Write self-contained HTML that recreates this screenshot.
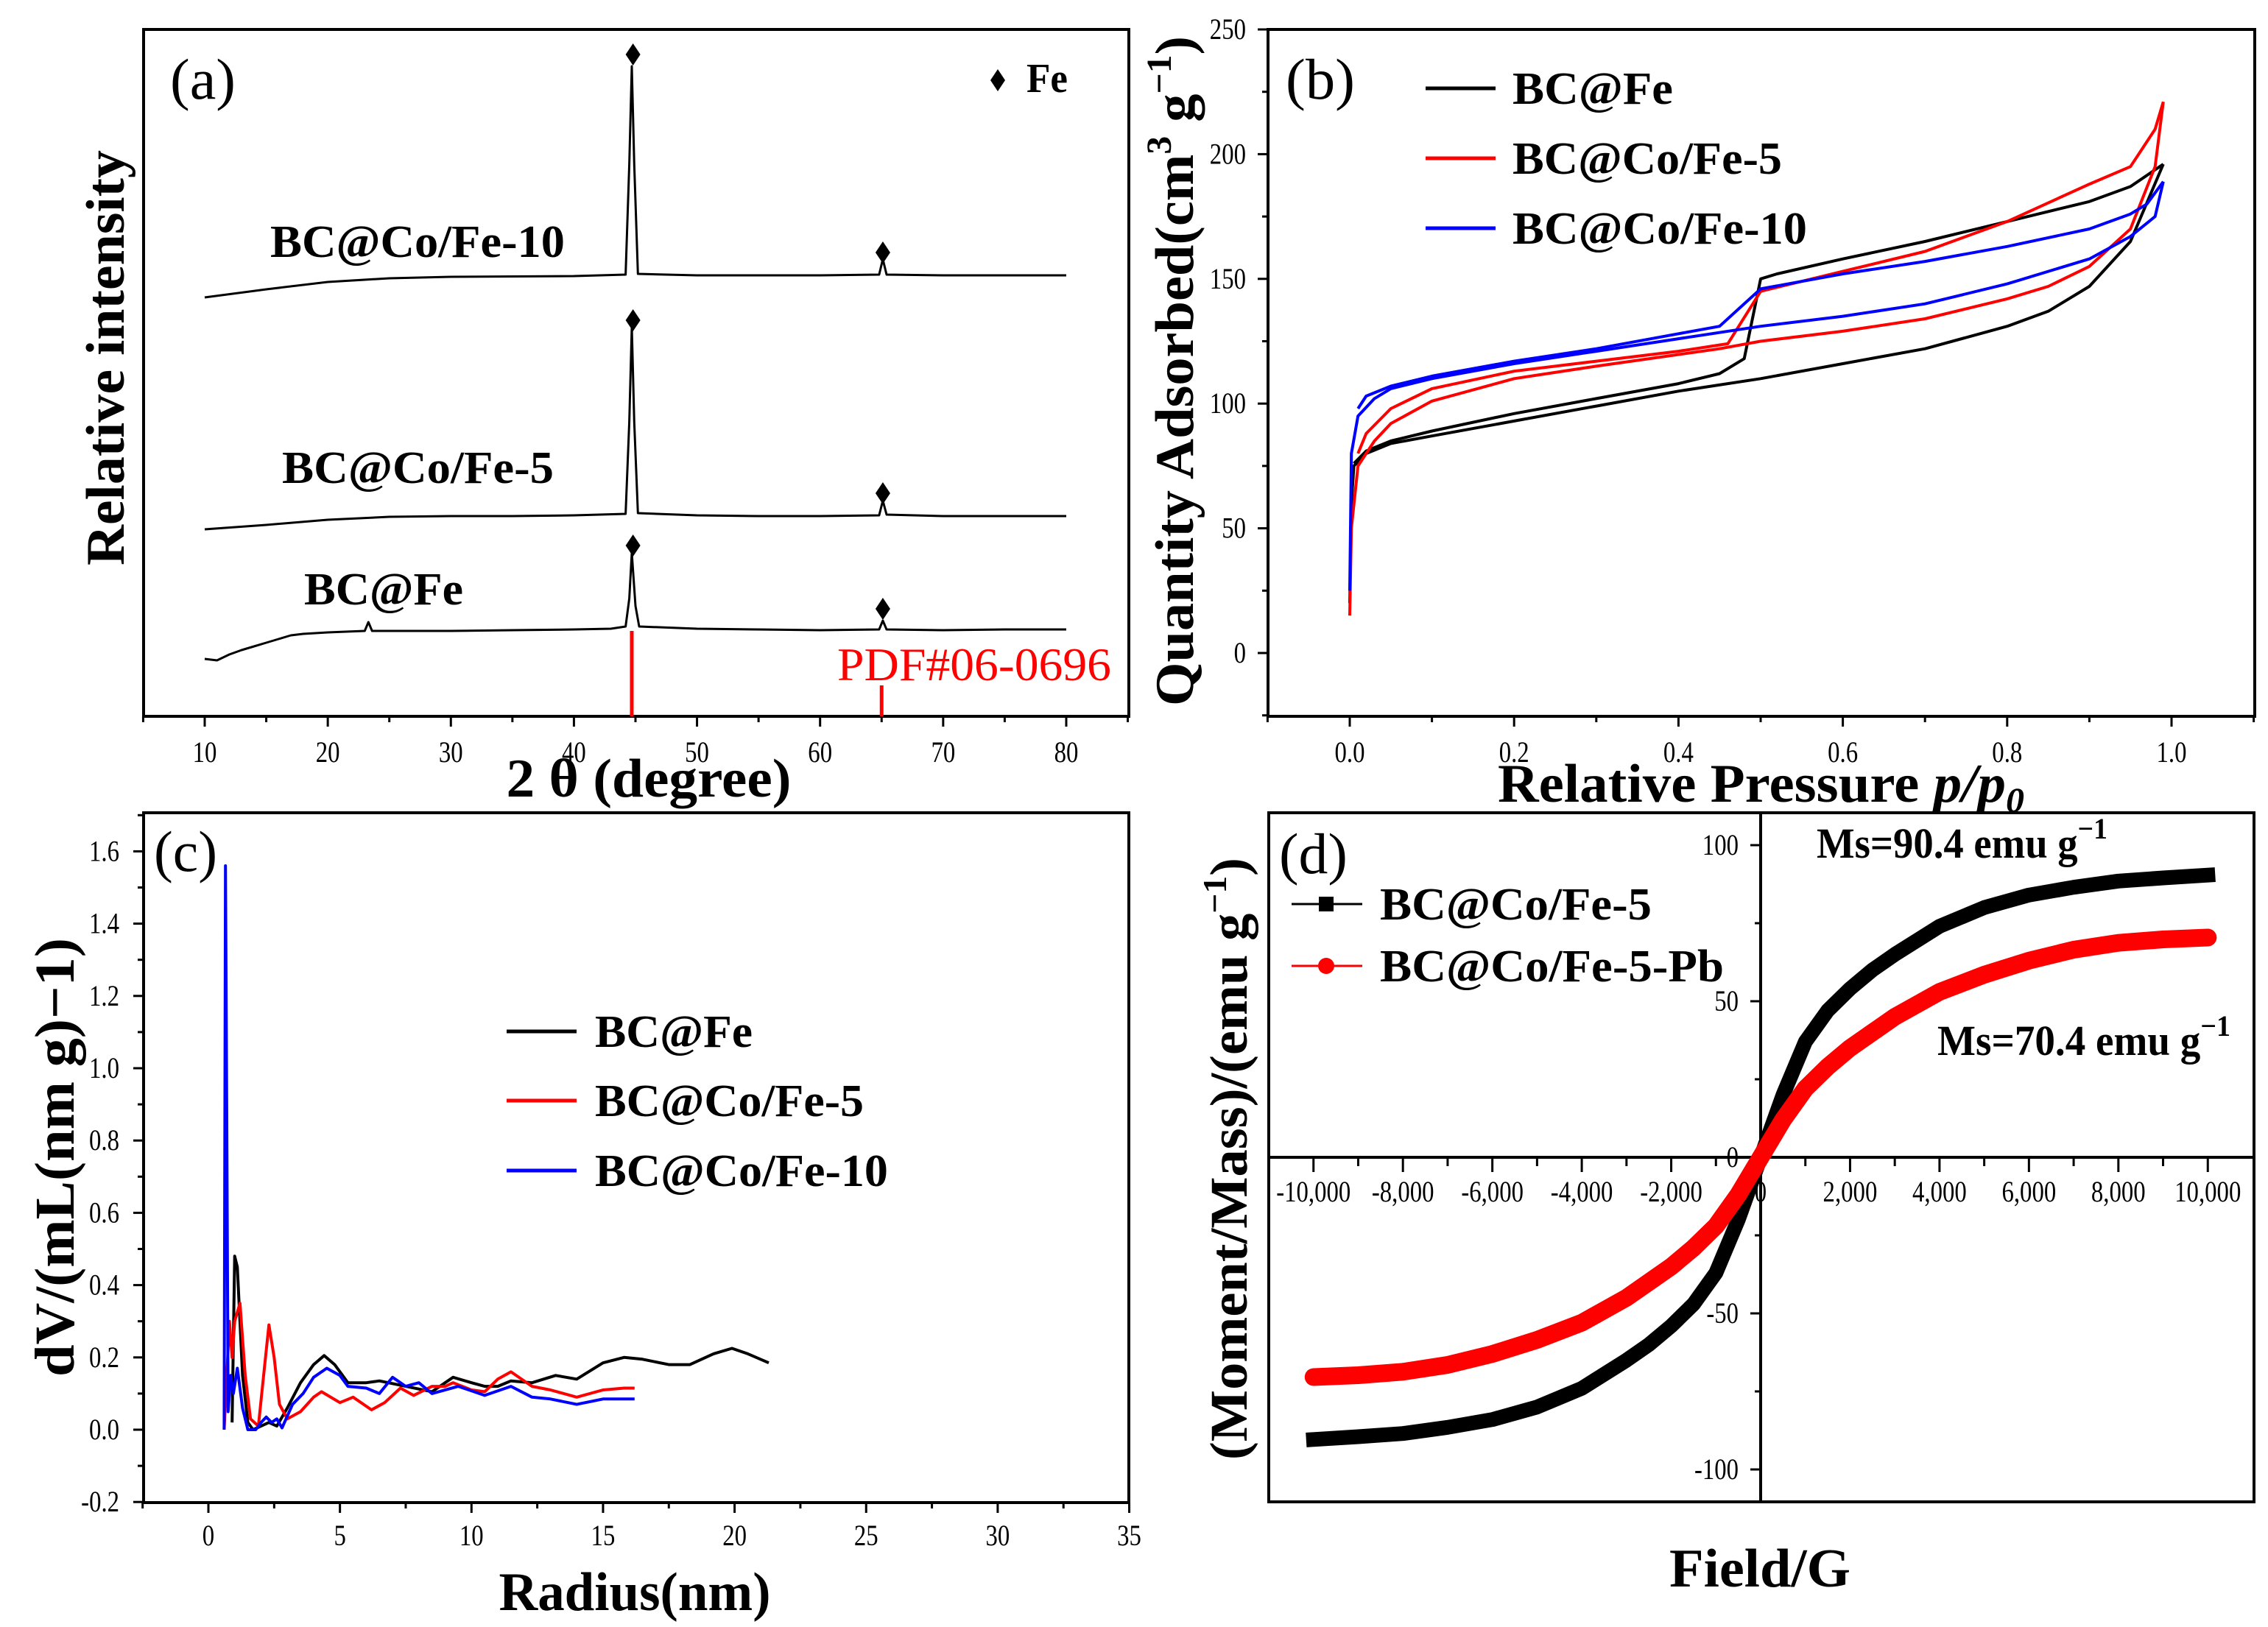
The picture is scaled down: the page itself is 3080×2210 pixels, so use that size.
<!DOCTYPE html>
<html><head><meta charset="utf-8"><style>
html,body{margin:0;padding:0;background:#fff;}
svg{display:block;font-family:"Liberation Serif",serif;}
.b{font-weight:bold;}
</style></head><body>
<svg id="fig" xmlns="http://www.w3.org/2000/svg" width="3080" height="2210" viewBox="0 0 3080 2210">
<rect x="0" y="0" width="3080" height="2210" fill="#fff"/>
<g id="layer"></g>
<!-- panel a texts -->
<text x="231" y="134" font-size="78" textLength="89" lengthAdjust="spacingAndGlyphs">(a)</text>
<text class="b" x="367" y="349" font-size="62" textLength="400" lengthAdjust="spacingAndGlyphs">BC@Co/Fe-10</text>
<text class="b" x="383" y="656" font-size="62" textLength="369" lengthAdjust="spacingAndGlyphs">BC@Co/Fe-5</text>
<text class="b" x="413" y="821" font-size="62" textLength="216" lengthAdjust="spacingAndGlyphs">BC@Fe</text>
<text class="b" x="1394" y="125" font-size="56" textLength="56" lengthAdjust="spacingAndGlyphs">Fe</text>
<text x="1137" y="924" font-size="64" fill="#ff0000" textLength="372" lengthAdjust="spacingAndGlyphs">PDF#06-0696</text>
<text class="b" x="881" y="1082" font-size="74" text-anchor="middle" textLength="387" lengthAdjust="spacingAndGlyphs">2 θ (degree)</text>
<text class="b" transform="translate(168,486) rotate(-90)" x="0" y="0" font-size="74" text-anchor="middle" textLength="564" lengthAdjust="spacingAndGlyphs">Relative intensity</text>
<!-- panel b texts -->
<text x="1746" y="134" font-size="78" textLength="94" lengthAdjust="spacingAndGlyphs">(b)</text>
<text class="b" x="2054" y="141" font-size="62" textLength="218" lengthAdjust="spacingAndGlyphs">BC@Fe</text>
<text class="b" x="2054" y="236" font-size="62" textLength="366" lengthAdjust="spacingAndGlyphs">BC@Co/Fe-5</text>
<text class="b" x="2054" y="331" font-size="62" textLength="400" lengthAdjust="spacingAndGlyphs">BC@Co/Fe-10</text>
<text class="b" x="2034" y="1089" font-size="74" textLength="715" lengthAdjust="spacingAndGlyphs">Relative Pressure <tspan font-style="italic">p/p</tspan><tspan font-style="italic" font-size="48" dy="14">0</tspan></text>
<text class="b" transform="translate(1620,504) rotate(-90)" x="0" y="0" font-size="74" text-anchor="middle" textLength="910" lengthAdjust="spacingAndGlyphs">Quantity Adsorbed(cm<tspan font-size="48" dy="-30">3</tspan><tspan dy="30"> g</tspan><tspan font-size="48" dy="-30">−1</tspan><tspan dy="30">)</tspan></text>
<!-- panel c texts -->
<text x="209" y="1183" font-size="78" textLength="86" lengthAdjust="spacingAndGlyphs">(c)</text>
<text class="b" x="808" y="1422" font-size="62" textLength="214" lengthAdjust="spacingAndGlyphs">BC@Fe</text>
<text class="b" x="808" y="1516" font-size="62" textLength="365" lengthAdjust="spacingAndGlyphs">BC@Co/Fe-5</text>
<text class="b" x="808" y="1611" font-size="62" textLength="398" lengthAdjust="spacingAndGlyphs">BC@Co/Fe-10</text>
<text class="b" x="862" y="2187" font-size="74" text-anchor="middle" textLength="369" lengthAdjust="spacingAndGlyphs">Radius(nm)</text>
<text class="b" transform="translate(100,1572) rotate(-90)" x="0" y="0" font-size="76" text-anchor="middle" textLength="596" lengthAdjust="spacingAndGlyphs">dV/(mL(nm g)−1)</text>
<!-- panel d texts -->
<text x="1737" y="1186" font-size="78" textLength="93" lengthAdjust="spacingAndGlyphs">(d)</text>
<text class="b" x="1874" y="1249" font-size="62" textLength="369" lengthAdjust="spacingAndGlyphs">BC@Co/Fe-5</text>
<text class="b" x="1874" y="1333" font-size="62" textLength="467" lengthAdjust="spacingAndGlyphs">BC@Co/Fe-5-Pb</text>
<text class="b" x="2467" y="1165" font-size="58" textLength="395" lengthAdjust="spacingAndGlyphs">Ms=90.4 emu g<tspan font-size="40" dy="-26">−1</tspan></text>
<text class="b" x="2631" y="1433" font-size="58" textLength="398" lengthAdjust="spacingAndGlyphs">Ms=70.4 emu g<tspan font-size="40" dy="-26">−1</tspan></text>
<text class="b" x="2390" y="2155" font-size="74" text-anchor="middle" textLength="246" lengthAdjust="spacingAndGlyphs">Field/G</text>
<text class="b" transform="translate(1693,1574) rotate(-90)" x="0" y="0" font-size="72" text-anchor="middle" textLength="818" lengthAdjust="spacingAndGlyphs">(Moment/Mass)/(emu g<tspan font-size="46" dy="-28">−1</tspan><tspan dy="28">)</tspan></text>
</svg>
<script>
// ---------- Panel (a) XRD data (2θ, relative intensity a.u.) ----------
const aFeX = [10,11,12,13,14,15,16,17,18,20,23,23.3,23.6,25,30,35,40,43,44.2,44.5,44.7,45,45.3,50,55,60,64.8,65.1,65.4,70,75,80];
const aFeY = [78,76,84,90,95,100,105,110,112,114,116,128,116,116,116,117,118,119,122,160,222,150,122,119,118,117,118,130,118,117,118,118];
const aCo5X = [10,15,20,25,30,35,40,44.2,44.5,44.7,44.9,45.2,50,55,60,64.8,65.1,65.4,70,80];
const aCo5Y = [254,260,267,271,272,272,273,275,400,529,400,276,273,272,272,273,293,274,272,272];
const aCo10X = [10,15,20,25,30,40,44.2,44.5,44.7,44.9,45.2,50,60,64.8,65.1,65.4,70,80];
const aCo10Y = [569,580,590,595,597,598,600,750,883,750,601,599,599,600,621,600,599,599];
const aPeakX = [44.8,65.1];
const aDiamFe = [232,146];
const aDiamCo5 = [538,303];
const aDiamCo10 = [899,630];
const pdfX = [44.7,65.0];
const pdfI = [116,42];
const aTicks = [10,20,30,40,50,60,70,80];

// ---------- Panel (b) isotherms (p/p0, cm3/g) ----------
const bFeAdsX = [0,0.002,0.005,0.02,0.05,0.1,0.2,0.3,0.4,0.5,0.6,0.7,0.8,0.85,0.9,0.95,0.99];
const bFeAdsY = [20,60,75,80,84,87,93,99,105,110,116,122,131,137,147,165,196];
const bFeDesX = [0.99,0.95,0.9,0.8,0.7,0.6,0.52,0.5,0.48,0.45,0.4,0.3,0.2,0.1,0.05,0.02,0.005];
const bFeDesY = [196,187,181,173,165,158,152,150,118,112,108,102,96,89,85,81,76];
const bCo5AdsX = [0,0.002,0.01,0.03,0.05,0.1,0.2,0.3,0.45,0.5,0.6,0.7,0.8,0.85,0.9,0.95,0.98,0.99];
const bCo5AdsY = [15,50,75,85,92,101,110,115,122,125,129,134,142,147,155,170,195,221];
const bCo5DesX = [0.99,0.98,0.96,0.95,0.9,0.8,0.7,0.6,0.5,0.46,0.4,0.3,0.2,0.1,0.05,0.02,0.01];
const bCo5DesY = [221,210,200,195,188,173,161,153,145,124,121,117,113,106,98,88,80];
const bCo10AdsX = [0,0.002,0.01,0.03,0.05,0.1,0.2,0.3,0.4,0.5,0.6,0.7,0.8,0.9,0.95,0.98,0.99];
const bCo10AdsY = [25,80,95,102,106,110,116,121,126,131,135,140,148,158,167,175,189];
const bCo10DesX = [0.99,0.97,0.95,0.9,0.8,0.7,0.6,0.5,0.45,0.4,0.3,0.2,0.1,0.05,0.02,0.01];
const bCo10DesY = [189,180,176,170,163,157,152,146,131,128,122,117,111,107,103,98];
const bXTicks = [0,0.2,0.4,0.6,0.8,1.0];
const bXTickLabels = ["0.0","0.2","0.4","0.6","0.8","1.0"];
const bYTicks = [0,50,100,150,200,250];

// ---------- Panel (c) pore size distribution (nm, mL/(nm g)) ----------
const cFeX = [0.9,1.0,1.1,1.3,1.5,1.7,2.0,2.3,2.6,3.0,3.5,4.0,4.4,4.8,5.3,6.0,6.5,7.5,8.5,9.3,10.0,10.5,11.0,11.5,12.3,13.2,14.0,15.0,15.8,16.5,17.5,18.3,19.2,19.9,20.5,21.3];
const cFeY = [0.02,0.48,0.45,0.15,0.02,0.0,0.01,0.02,0.01,0.06,0.13,0.18,0.205,0.18,0.13,0.13,0.135,0.12,0.105,0.145,0.13,0.12,0.12,0.135,0.13,0.15,0.14,0.185,0.2,0.195,0.18,0.18,0.21,0.225,0.21,0.185];
const cCo5X = [0.6,0.8,0.9,1.0,1.2,1.4,1.6,1.9,2.1,2.3,2.5,2.7,3.0,3.5,4.0,4.3,5.0,5.5,6.2,6.7,7.3,7.8,8.5,9.0,9.3,10.0,10.5,11.0,11.5,12.3,13.0,14.0,15.0,15.8,16.2];
const cCo5Y = [0,0.3,0.2,0.3,0.35,0.15,0.03,0.01,0.15,0.29,0.2,0.07,0.03,0.05,0.09,0.105,0.075,0.09,0.055,0.075,0.115,0.095,0.12,0.12,0.13,0.11,0.105,0.14,0.16,0.12,0.11,0.09,0.11,0.115,0.115];
const cCo10X = [0.6,0.65,0.7,0.75,0.85,0.95,1.1,1.3,1.5,1.8,2.0,2.2,2.4,2.6,2.8,3.2,3.6,4.0,4.5,5.0,5.3,6.0,6.5,7.0,7.5,8.0,8.5,9.5,10.5,11.5,12.3,13.0,14.0,15.0,16.2];
const cCo10Y = [0,1.56,0.85,0.05,0.15,0.10,0.17,0.06,0.0,0.0,0.02,0.035,0.02,0.03,0.005,0.07,0.10,0.145,0.17,0.15,0.12,0.115,0.10,0.145,0.12,0.13,0.10,0.12,0.095,0.12,0.09,0.085,0.07,0.085,0.085];
const cXTicks = [0,5,10,15,20,25,30,35];
const cYTicks = [-0.2,0,0.2,0.4,0.6,0.8,1.0,1.2,1.4,1.6];
const cYTickLabels = ["-0.2","0.0","0.2","0.4","0.6","0.8","1.0","1.2","1.4","1.6"];

// ---------- Panel (d) magnetization (G, emu/g) ----------
const dField = [-10000,-9000,-8000,-7000,-6000,-5000,-4000,-3000,-2500,-2000,-1500,-1000,-500,0,500,1000,1500,2000,2500,3000,4000,5000,6000,7000,8000,9000,10000];
const dCo5 = [-90.4,-89.5,-88.5,-86.5,-84,-80,-74,-65,-60,-54,-47,-37,-20,0,20,37,47,54,60,65,74,80,84,86.5,88.5,89.5,90.4];
const dCo5Pb = [-70.4,-69.8,-68.7,-66.5,-63,-58.5,-53,-45,-40,-35,-29,-22,-12,0,12,22,29,35,40,45,53,58.5,63,66.5,68.7,69.8,70.4];
const dXTicks = [-10000,-8000,-6000,-4000,-2000,0,2000,4000,6000,8000,10000];
const dXTickLabels = ["-10,000","-8,000","-6,000","-4,000","-2,000","0","2,000","4,000","6,000","8,000","10,000"];
const dYTicks = [-100,-50,0,50,100];

// ---------- scales ----------
const ax = v => 278 + (v - 10) * 16.714;
const ay = v => 973 - v;
const bx = v => 1833 + v * 1116;
const by = v => 887 - v * 3.388;
const cx = v => 283 + v * 35.73;
const cy = v => 1942 - v * 491;
const dx = v => 2391 + v * 0.060725;
const dy = v => 1572 - v * 4.24;

const NS = "http://www.w3.org/2000/svg";
const layer = document.getElementById('layer');
function mk(tag, attrs, name) {
  const el = document.createElementNS(NS, tag);
  for (const k in attrs) el.setAttribute(k, attrs[k]);
  
  
  layer.appendChild(el);
  return el;
}
function line(x1, y1, x2, y2, w, c, name) {
  return mk('line', {x1, y1, x2, y2, stroke: c, 'stroke-width': w}, name);
}
function poly(xs, ys, fx, fy, w, c, name, extra) {
  const pts = xs.map((v, i) => fx(v).toFixed(1) + ',' + fy(ys[i]).toFixed(1)).join(' ');
  const a = {points: pts, fill: 'none', stroke: c, 'stroke-width': w, 'stroke-linejoin': 'round'};
  if (extra) for (const k in extra) a[k] = extra[k];
  return mk('polyline', a, name);
}
function txt(x, y, s, fs, anchor, name, len) {
  const a = {x, y, 'font-size': fs, 'text-anchor': anchor};
  if (len) { a.textLength = len; a.lengthAdjust = 'spacingAndGlyphs'; }
  const t = mk('text', a, name);
  t.textContent = s;
  return t;
}
function diamond(x, y, name) {
  return mk('polygon', {points: `${x},${y-15} ${x+10},${y} ${x},${y+15} ${x-10},${y}`, fill: '#000'}, name);
}
function digitsLen(s, fs) {
  let w = 0;
  for (const ch of s) w += (ch === ',' || ch === '.') ? 0.25 : (ch === '-' ? 0.33 : 0.5);
  return w * fs * 0.82;
}

// ===== Panel (a) =====
mk('rect', {x: 195, y: 40, width: 1338, height: 933, fill: 'none', stroke: '#000', 'stroke-width': 4}, 'plot-frame-a');
for (let v = 5; v <= 85; v += 5) {
  const major = v % 10 === 0;
  line(ax(v), 973, ax(v), 973 + (major ? 14 : 8), 3, '#000', 'x-tick-a');
}
aTicks.forEach(v => txt(ax(v), 1035, String(v), 40, 'middle', 'x-tick-label-a', digitsLen(String(v), 40)));
pdfX.forEach((v, i) => line(ax(v), 973, ax(v), ay(pdfI[i]), 5, '#ff0000', 'pdf-reference-line'));
poly(aFeX, aFeY, ax, ay, 3, '#000', 'xrd-curve-bc-fe');
poly(aCo5X, aCo5Y, ax, ay, 3, '#000', 'xrd-curve-bc-co-fe-5');
poly(aCo10X, aCo10Y, ax, ay, 3, '#000', 'xrd-curve-bc-co-fe-10');
aPeakX.forEach((v, i) => {
  diamond(ax(v), ay(aDiamFe[i]), 'fe-peak-marker');
  diamond(ax(v), ay(aDiamCo5[i]), 'fe-peak-marker');
  diamond(ax(v), ay(aDiamCo10[i]), 'fe-peak-marker');
});
diamond(1355, 109, 'legend-fe-marker');

// ===== Panel (b) =====
mk('rect', {x: 1722, y: 40, width: 1340, height: 933, fill: 'none', stroke: '#000', 'stroke-width': 4}, 'plot-frame-b');
for (let k = -1; k <= 11; k++) {
  const v = k / 10, major = k % 2 === 0;
  line(bx(v), 973, bx(v), 973 + (major ? 14 : 8), 3, '#000', 'x-tick-b');
}
bXTicks.forEach((v, i) => txt(bx(v), 1035, bXTickLabels[i], 40, 'middle', 'x-tick-label-b', digitsLen(bXTickLabels[i], 40)));
for (let v = -25; v <= 250; v += 25) {
  const major = v % 50 === 0;
  line(1722, by(v), 1722 - (major ? 14 : 8), by(v), 3, '#000', 'y-tick-b');
}
bYTicks.forEach(v => txt(1692, by(v) + 13, String(v), 40, 'end', 'y-tick-label-b', digitsLen(String(v), 40)));
poly(bFeAdsX, bFeAdsY, bx, by, 4, '#000', 'isotherm-bc-fe-adsorption');
poly(bFeDesX, bFeDesY, bx, by, 4, '#000', 'isotherm-bc-fe-desorption');
poly(bCo5AdsX, bCo5AdsY, bx, by, 4, '#ff0000', 'isotherm-bc-co-fe-5-adsorption');
poly(bCo5DesX, bCo5DesY, bx, by, 4, '#ff0000', 'isotherm-bc-co-fe-5-desorption');
poly(bCo10AdsX, bCo10AdsY, bx, by, 4, '#0000ff', 'isotherm-bc-co-fe-10-adsorption');
poly(bCo10DesX, bCo10DesY, bx, by, 4, '#0000ff', 'isotherm-bc-co-fe-10-desorption');
line(1936, 120, 2031, 120, 5, '#000', 'legend-b-line-bc-fe');
line(1936, 215, 2031, 215, 5, '#ff0000', 'legend-b-line-bc-co-fe-5');
line(1936, 310, 2031, 310, 5, '#0000ff', 'legend-b-line-bc-co-fe-10');

// ===== Panel (c) =====
mk('rect', {x: 195, y: 1104, width: 1338, height: 937, fill: 'none', stroke: '#000', 'stroke-width': 4}, 'plot-frame-c');
for (let k = -1; k <= 14; k++) {
  const v = k * 2.5, major = k % 2 === 0;
  line(cx(v), 2041, cx(v), 2041 + (major ? 14 : 8), 3, '#000', 'x-tick-c');
}
cXTicks.forEach(v => txt(cx(v), 2099, String(v), 40, 'middle', 'x-tick-label-c', digitsLen(String(v), 40)));
for (let k = -2; k <= 17; k++) {
  const v = k / 10, major = k % 2 === 0;
  line(195, cy(v), 195 - (major ? 14 : 8), cy(v), 3, '#000', 'y-tick-c');
}
cYTicks.forEach((v, i) => txt(162, cy(v) + 13, cYTickLabels[i], 40, 'end', 'y-tick-label-c', digitsLen(cYTickLabels[i], 40)));
poly(cFeX, cFeY, cx, cy, 4, '#000', 'psd-curve-bc-fe');
poly(cCo5X, cCo5Y, cx, cy, 4, '#ff0000', 'psd-curve-bc-co-fe-5');
poly(cCo10X, cCo10Y, cx, cy, 4, '#0000ff', 'psd-curve-bc-co-fe-10');
line(688, 1401, 783, 1401, 5, '#000', 'legend-c-line-bc-fe');
line(688, 1495, 783, 1495, 5, '#ff0000', 'legend-c-line-bc-co-fe-5');
line(688, 1590, 783, 1590, 5, '#0000ff', 'legend-c-line-bc-co-fe-10');

// ===== Panel (d) =====
mk('rect', {x: 1723, y: 1104, width: 1338, height: 936, fill: 'none', stroke: '#000', 'stroke-width': 4}, 'plot-frame-d');
line(1723, dy(0), 3061, dy(0), 4, '#000', 'x-axis-line-d');
line(dx(0), 1104, dx(0), 2040, 4, '#000', 'y-axis-line-d');
for (let v = -10000; v <= 10000; v += 1000) {
  const major = v % 2000 === 0;
  line(dx(v), dy(0), dx(v), dy(0) + (major ? 20 : 12), 3, '#000', 'x-tick-d');
}
dXTicks.forEach((v, i) => txt(dx(v), 1632, dXTickLabels[i], 40, 'middle', 'x-tick-label-d', digitsLen(dXTickLabels[i], 40)));
for (let v = -100; v <= 100; v += 25) {
  const major = v % 50 === 0;
  line(dx(0), dy(v), dx(0) - (major ? 14 : 8), dy(v), 3, '#000', 'y-tick-d');
}
dYTicks.forEach(v => txt(2361, dy(v) + 13, String(v), 40, 'end', 'y-tick-label-d', digitsLen(String(v), 40)));
poly(dField, dCo5, dx, dy, 20, '#000', 'magnetization-curve-bc-co-fe-5', {'stroke-linecap': 'square'});
poly(dField, dCo5Pb, dx, dy, 24, '#ff0000', 'magnetization-curve-bc-co-fe-5-pb', {'stroke-linecap': 'round'});
line(1754, 1228, 1850, 1228, 3, '#000', 'legend-d-line-bc-co-fe-5');
mk('rect', {x: 1791, y: 1218, width: 20, height: 20, fill: '#000'}, 'legend-d-marker-square');
line(1754, 1312, 1850, 1312, 3, '#ff0000', 'legend-d-line-bc-co-fe-5-pb');
mk('circle', {cx: 1801, cy: 1312, r: 11, fill: '#ff0000'}, 'legend-d-marker-circle');
</script>
</body></html>
